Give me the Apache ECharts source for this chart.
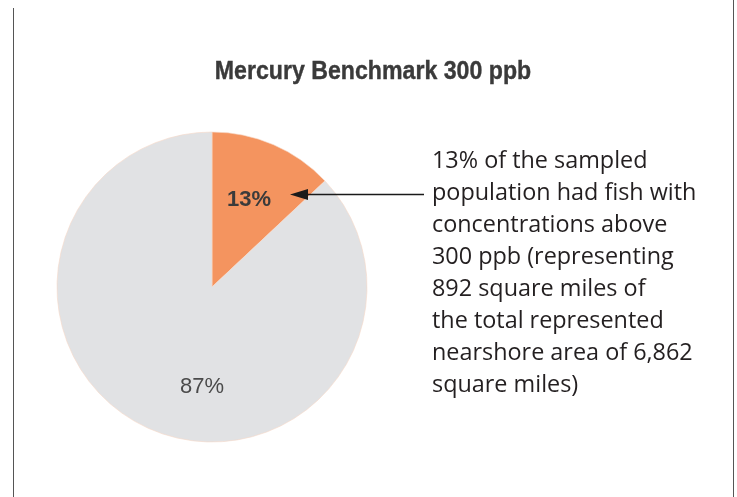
<!DOCTYPE html>
<html>
<head>
<meta charset="utf-8">
<script src="https://cdn.jsdelivr.net/npm/echarts@6/dist/echarts.min.js"></script>
<style>
  html, body { margin: 0; padding: 0; background: #ffffff; }
  #chart { width: 737px; height: 497px; }
</style>
</head>
<body>
<div id="chart"></div>
<script>
// Share of sampled population above / below the 300 ppb mercury benchmark
const categories = ['Above 300 ppb', 'At or below 300 ppb'];
const shares = [13, 87];
const sliceColors = ['#F4945F', '#E1E2E4'];
const chartTitle = 'Mercury Benchmark 300 ppb';
const noteLines = [
  '13% of the sampled',
  'population had fish with',
  'concentrations above',
  '300 ppb (representing',
  '892 square miles of',
  'the total represented',
  'nearshore area of 6,862',
  'square miles)'
];

const chart = echarts.init(document.getElementById('chart'), null, { renderer: 'canvas' });

const labelFont = '"Liberation Sans Narrow", "Liberation Sans", Arial, sans-serif';
const labelStyles = [
  { fontWeight: 'bold', fontFamily: labelFont, fontSize: 22, color: '#3b3b3b', offset: [5, -13] },
  { fontWeight: 'normal', fontFamily: labelFont, fontSize: 22, color: '#4a4a4a', offset: [22, 26] }
];

const pieData = categories.map((name, i) => ({
  name,
  value: shares[i],
  itemStyle: { color: sliceColors[i] },
  label: labelStyles[i]
}));

chart.setOption({
  backgroundColor: '#ffffff',
  animation: false,
  series: [{
    type: 'pie',
    center: [212, 287],
    radius: [0, 155],
    startAngle: 90,
    clockwise: true,
    silent: true,
    itemStyle: { borderColor: '#f6d9c8', borderWidth: 0.6 },
    label: {
      show: true,
      position: 'inside',
      formatter: p => p.value + '%'
    },
    labelLine: { show: false },
    data: pieData
  }],
  graphic: [
    // chart heading, narrowed horizontally to a condensed look
    {
      type: 'text',
      x: 373,
      y: 72,
      scaleX: 0.89,
      z: 100,
      style: {
        text: chartTitle,
        align: 'center',
        verticalAlign: 'middle',
        fontFamily: '"Liberation Sans", Arial, sans-serif',
        fontWeight: 'bold',
        fontSize: 26,
        fill: '#3a3a3a',
        stroke: '#3a3a3a',
        lineWidth: 0.4
      }
    },
    // frame rules at the left and right edges
    { type: 'line', z: 100, shape: { x1: 13.5, y1: 8, x2: 13.5, y2: 497 }, style: { stroke: '#555', lineWidth: 1 } },
    { type: 'line', z: 100, shape: { x1: 733.5, y1: 0, x2: 733.5, y2: 497 }, style: { stroke: '#555', lineWidth: 1 } },
    // callout arrow pointing into the highlighted slice
    { type: 'line', z: 100, shape: { x1: 305, y1: 194.5, x2: 424, y2: 194.5 }, style: { stroke: '#1a1a1a', lineWidth: 1.5 } },
    { type: 'polygon', z: 100, shape: { points: [[290, 194.5], [308, 189], [308, 200]] }, style: { fill: '#1a1a1a' } },
    {
      type: 'text',
      z: 100,
      x: 432,
      y: 145,
      style: {
        text: noteLines.join('\n'),
        fontFamily: '"Open Sans", "Noto Sans", sans-serif',
        fontSize: 23.4,
        lineHeight: 32,
        fill: '#231f20'
      }
    }
  ]
});
</script>
</body>
</html>
